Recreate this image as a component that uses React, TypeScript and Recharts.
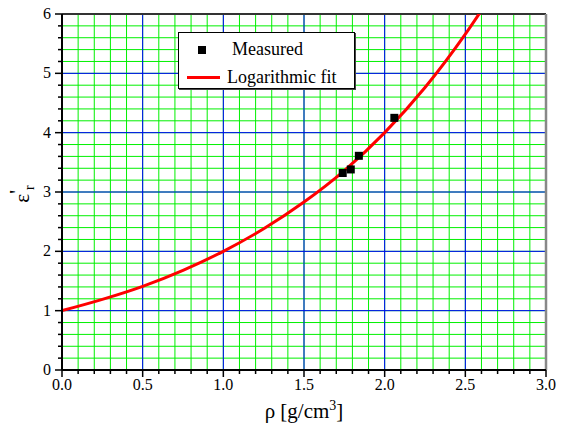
import React from 'react';
import {
  ComposedChart, Line, Scatter, XAxis, YAxis, CartesianGrid, ReferenceLine,
} from 'recharts';

const fitCurve = [
  { x: 0.0, y: 1.0 },
  { x: 0.25, y: 1.19 },
  { x: 0.5, y: 1.41 },
  { x: 0.75, y: 1.68 },
  { x: 1.0, y: 2.0 },
  { x: 1.25, y: 2.38 },
  { x: 1.5, y: 2.83 },
  { x: 1.75, y: 3.36 },
  { x: 2.0, y: 4.0 },
  { x: 2.25, y: 4.76 },
  { x: 2.5, y: 5.66 },
  { x: 2.6, y: 6.06 },
];

const measured = [
  { x: 1.74, y: 3.32 },
  { x: 1.79, y: 3.38 },
  { x: 1.84, y: 3.61 },
  { x: 2.06, y: 4.25 },
];

const xTicks = [
  0, 0.1, 0.2, 0.3, 0.4, 0.5, 0.6, 0.7, 0.8, 0.9,
  1, 1.1, 1.2, 1.3, 1.4, 1.5, 1.6, 1.7, 1.8, 1.9,
  2, 2.1, 2.2, 2.3, 2.4, 2.5, 2.6, 2.7, 2.8, 2.9, 3,
];
const xMajor = [0.5, 1, 1.5, 2, 2.5];
const yTicks = [
  0, 0.2, 0.4, 0.6, 0.8, 1, 1.2, 1.4, 1.6, 1.8,
  2, 2.2, 2.4, 2.6, 2.8, 3, 3.2, 3.4, 3.6, 3.8,
  4, 4.2, 4.4, 4.6, 4.8, 5, 5.2, 5.4, 5.6, 5.8, 6,
];
const yMajor = [1, 2, 3, 4, 5];

const FONT = "'Liberation Serif', 'Times New Roman', serif";

const isXMajor = (v: number) => Math.abs(v * 2 - Math.round(v * 2)) < 1e-6;
const isYMajor = (v: number) => Math.abs(v - Math.round(v)) < 1e-6;

const XTick = (props: any) => {
  const { x, y, payload } = props;
  const v = payload.value as number;
  const major = isXMajor(v);
  return (
    <g>
      <line x1={x} y1={y} x2={x} y2={y + (major ? 7 : 4)} stroke="#000" strokeWidth={1.5} />
      {major && (
        <foreignObject x={x - 25} y={y + 5} width={50} height={20}>
          <div style={{ fontFamily: FONT, fontSize: 16, lineHeight: '20px', textAlign: 'center', color: '#000' }}>
            {v.toFixed(1)}
          </div>
        </foreignObject>
      )}
    </g>
  );
};

const YTick = (props: any) => {
  const { x, y, payload } = props;
  const v = payload.value as number;
  const major = isYMajor(v);
  return (
    <g>
      <line x1={x - (major ? 7 : 4)} y1={y} x2={x} y2={y} stroke="#000" strokeWidth={1.5} />
      {major && (
        <foreignObject x={x - 51} y={y - 10} width={40} height={20}>
          <div style={{ fontFamily: FONT, fontSize: 16, lineHeight: '20px', textAlign: 'right', color: '#000' }}>
            {String(Math.round(v))}
          </div>
        </foreignObject>
      )}
    </g>
  );
};

const Square = (props: any) => {
  const { cx, cy } = props;
  return <rect x={cx - 4} y={cy - 4} width={8} height={8} fill="#000" />;
};

export default function App() {
  return (
    <div style={{ position: 'relative', width: 558, height: 441, marginTop: -8, fontFamily: FONT }}>
      <ComposedChart
        width={558}
        height={441}
        margin={{ top: 14, right: 20, bottom: 0, left: 0 }}
        style={{ background: '#fff' }}
      >
        <CartesianGrid stroke="#00f000" strokeWidth={1} />
        {xMajor.map((v) => (
          <ReferenceLine key={'xm' + v} x={v} stroke="#0000ff" strokeWidth={1} />
        ))}
        {yMajor.map((v) => (
          <ReferenceLine key={'ym' + v} y={v} stroke="#0000ff" strokeWidth={1} />
        ))}
        <ReferenceLine y={6} stroke="#333" strokeWidth={2} />
        <ReferenceLine x={3} stroke="#888" strokeWidth={2.5} />
        <XAxis
          type="number"
          dataKey="x"
          domain={[0, 3]}
          ticks={xTicks}
          interval={0}
          height={71}
          tickSize={0}
          tickMargin={0}
          tick={<XTick />}
          axisLine={{ stroke: '#000', strokeWidth: 2 }}
          allowDataOverflow
        />
        <YAxis
          type="number"
          dataKey="y"
          domain={[0, 6]}
          ticks={yTicks}
          interval={0}
          width={54}
          tickSize={0}
          tickMargin={0}
          tick={<YTick />}
          axisLine={{ stroke: '#000', strokeWidth: 2 }}
          allowDataOverflow
        />
        <Line
          data={fitCurve}
          dataKey="y"
          type="monotone"
          stroke="#ff0000"
          strokeWidth={3}
          dot={false}
          activeDot={false}
          isAnimationActive={false}
        />
        <Scatter
          data={measured}
          dataKey="y"
          fill="#000"
          shape={<Square />}
          isAnimationActive={false}
        />
      </ComposedChart>

      {/* y-axis title */}
      <div
        style={{
          position: 'absolute',
          left: -26,
          top: 182,
          width: 80,
          height: 24,
          lineHeight: '24px',
          textAlign: 'center',
          transform: 'rotate(-90deg)',
          fontSize: 21,
          color: '#000',
          whiteSpace: 'nowrap',
        }}
      >
        ε<span style={{ position: 'relative', top: -5 }}>'</span>
        <span style={{ fontSize: 14, position: 'relative', top: 5 }}>r</span>
      </div>

      {/* x-axis title */}
      <div
        style={{
          position: 'absolute',
          left: 196,
          top: 399,
          width: 200,
          height: 24,
          lineHeight: '24px',
          textAlign: 'center',
          fontSize: 21,
          color: '#000',
          whiteSpace: 'nowrap',
        }}
      >
        ρ [g/cm<span style={{ fontSize: 14, position: 'relative', top: -8 }}>3</span>]
      </div>

      {/* legend */}
      <div
        style={{
          position: 'absolute',
          left: 170,
          top: 32,
          width: 177,
          height: 57,
          boxSizing: 'border-box',
          border: '1px solid #000',
          background: '#fff',
          boxShadow: '1px 1px 0 #444',
          fontSize: 18,
          color: '#000',
        }}
      >
        <div style={{ position: 'absolute', left: 19, top: 13, width: 8, height: 8, background: '#000' }} />
        <div style={{ position: 'absolute', left: 53, top: 5, lineHeight: '22px', whiteSpace: 'nowrap' }}>Measured</div>
        <div style={{ position: 'absolute', left: 8, top: 43, width: 33, height: 3, background: '#ff0000' }} />
        <div style={{ position: 'absolute', left: 48, top: 33, lineHeight: '22px', whiteSpace: 'nowrap' }}>Logarithmic fit</div>
      </div>
    </div>
  );
}
